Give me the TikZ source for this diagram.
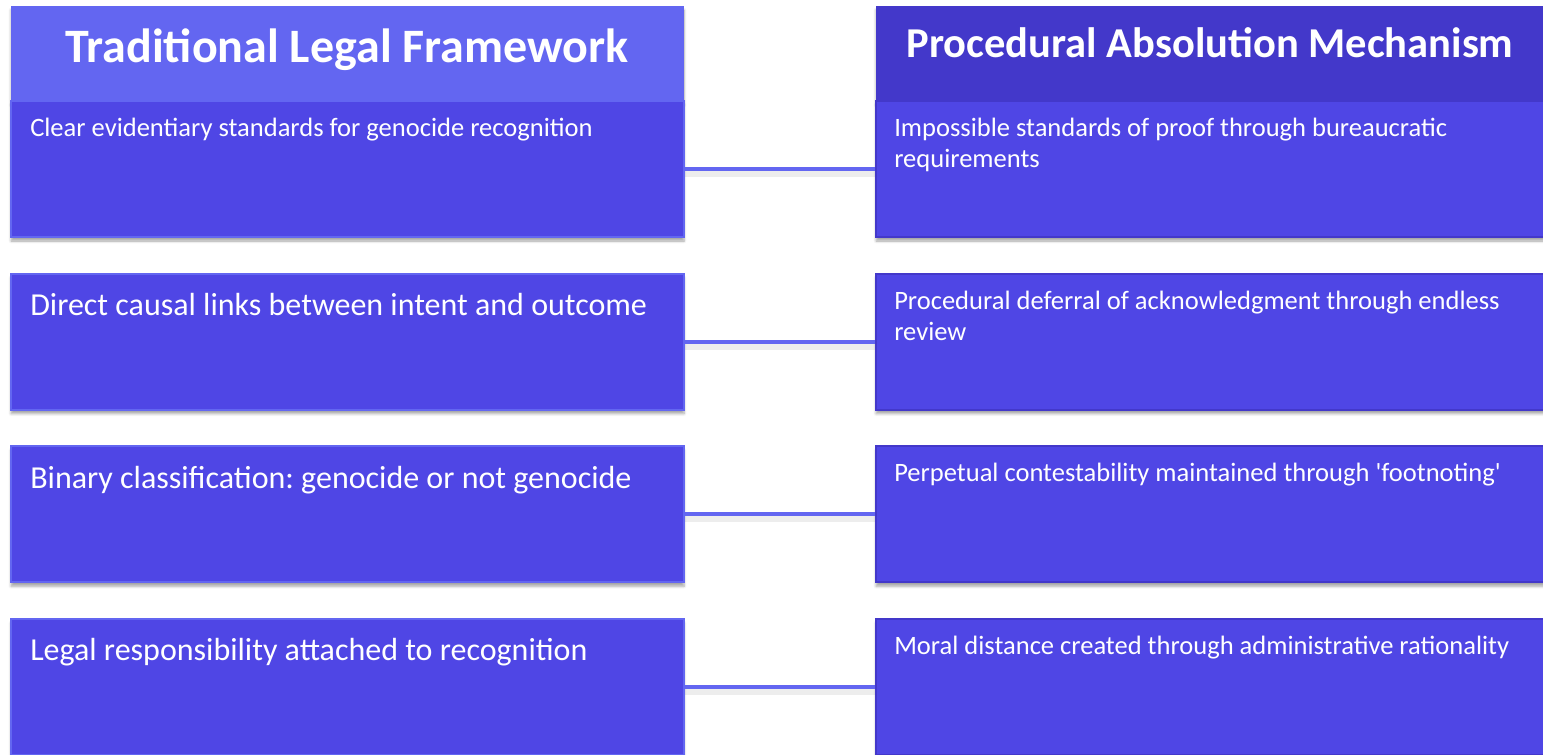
\documentclass[tikz,border=0pt]{standalone}
\usepackage{fontspec}
\setmainfont{Carlito}
\usetikzlibrary{shadows.blur}
\definecolor{hdrleft}{HTML}{6366F1}
\definecolor{hdrright}{HTML}{4338CA}
\definecolor{cellfill}{HTML}{4F46E5}
\frenchspacing
\tikzset{
  cellshadow/.style={blur shadow={shadow xshift=0pt, shadow yshift=-3pt, shadow blur steps=6, shadow opacity=35}},
  leftcell/.style={rectangle, anchor=north west, fill=cellfill, draw=hdrleft, line width=1.5pt, minimum width=504.75pt, minimum height=102pt, inner sep=0pt, cellshadow},
  rightcell/.style={leftcell, draw=hdrright},
  smalltxt/.style={anchor=north west, inner sep=0pt, text=white, text width=490pt, align=flush left, font=\fontsize{19.9}{23.25}\selectfont},
  bigtxt/.style={smalltxt, font=\fontsize{24}{30}\selectfont},
  headtxt/.style={anchor=base, inner sep=0pt, text=white, font=\bfseries\fontsize{36}{42}\selectfont},
  link/.style={draw=hdrleft, line width=3pt, preaction={draw=black, opacity=0.07, line width=6pt, transform canvas={yshift=-3pt}}}
}
\begin{document}
\begin{tikzpicture}[x=0.75pt, y=-0.75pt]
\useasboundingbox (0,0) rectangle (1543,754);

% Headers
\node [leftcell, fill=hdrleft, draw=none, minimum height=71.25pt] (hL) at (10,5) {};
\node [headtxt] (hLt) at (347,62) {Traditional Legal Framework};
\node [rightcell, fill=hdrright, draw=none, minimum height=71.25pt] (hR) at (875,5) {};
\node [headtxt, font=\bfseries\fontsize{31.9}{40}\selectfont] (hRt) at (1210,57) {Procedural Absolution Mechanism};

% Left column
\node [leftcell] (l1) at (10,100) {};
\node [smalltxt] (l1t) at (30,115) {\strut Clear evidentiary standards for genocide recognition};
\node [leftcell] (l2) at (10,272.7) {};
\node [bigtxt] (l2t) at (30,287) {\strut Direct causal links between intent and outcome};
\node [leftcell] (l3) at (10,445.3) {};
\node [bigtxt] (l3t) at (30,460) {\strut Binary classification: genocide or not genocide};
\node [leftcell] (l4) at (10,618) {};
\node [bigtxt] (l4t) at (30,632.5) {\strut Legal responsibility attached to recognition};

% Right column
\node [rightcell] (r1) at (875,100) {};
\node [smalltxt] (r1t) at (894,115) {\strut Impossible standards of proof through bureaucratic\\requirements};
\node [rightcell] (r2) at (875,272.7) {};
\node [smalltxt] (r2t) at (894,287.5) {\strut Procedural deferral of acknowledgment through endless\\review};
\node [rightcell] (r3) at (875,445.3) {};
\node [smalltxt] (r3t) at (894,460) {\strut Perpetual contestability maintained through \textquotesingle footnoting\textquotesingle};
\node [rightcell] (r4) at (875,618) {};
\node [smalltxt] (r4t) at (894,632.5) {\strut Moral distance created through administrative rationality};

% Links
\draw [link] (l1.east) -- (r1.west);
\draw [link] (l2.east) -- (r2.west);
\draw [link] (l3.east) -- (r3.west);
\draw [link] (l4.east) -- (r4.west);
\end{tikzpicture}
\end{document}
